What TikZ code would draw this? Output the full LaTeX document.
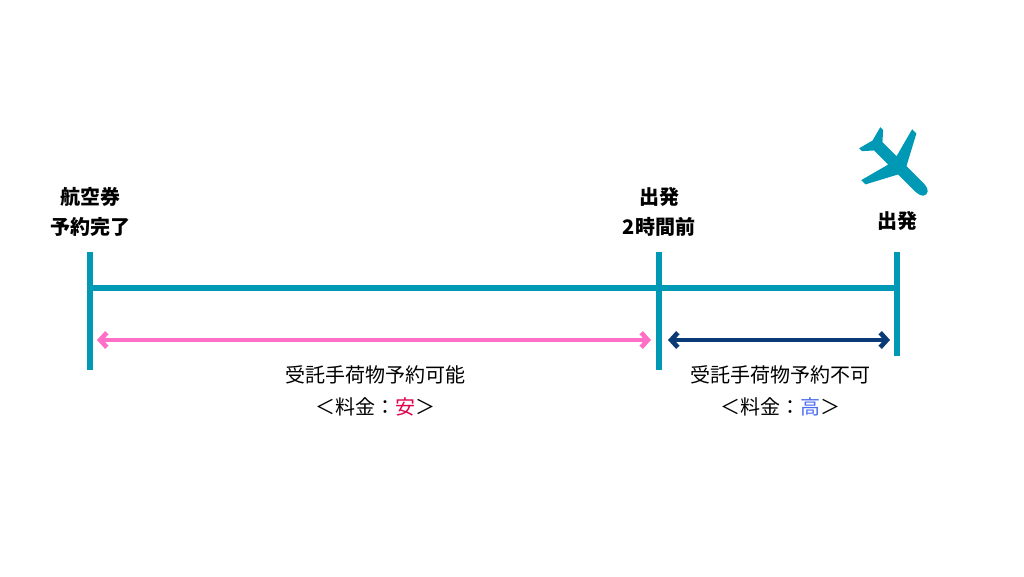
\documentclass[tikz,border=0pt]{standalone}
\usepackage{fontspec}
\newfontfamily\cjk{Noto Sans CJK JP}
\usetikzlibrary{arrows.meta}
\definecolor{lineteal}{HTML}{0099B5}
\definecolor{arrowpink}{HTML}{FF6EC7}
\definecolor{arrownavy}{HTML}{0B3A78}
\definecolor{cheapred}{HTML}{E0004D}
\definecolor{highblue}{HTML}{4A6CF0}
\tikzset{
  tick/.style={lineteal,line width=4.5pt},
  span/.style={line width=3.5pt,{Straight Barb[length=5pt,width=11pt]}-{Straight Barb[length=5pt,width=11pt]}},
  toplabel/.style={font=\cjk\bfseries\fontsize{15}{22}\selectfont,align=center},
  botlabel/.style={font=\cjk\fontsize{15}{24}\selectfont,align=center}
}
\begin{document}
\begin{tikzpicture}[x=0.75pt,y=-0.75pt]
    \useasboundingbox[fill=white] (0,0) rectangle (1024,576);
    % Points on the time line
    \coordinate (T0)  at (90,288);  % booking
    \coordinate (T1)  at (659,288); % two hours before
    \coordinate (T2)  at (897,288); % departure
    \draw[lineteal,line width=4.5pt] (T0) -- (T2);
    \draw[tick] (90,252) -- (90,370);
    \draw[tick] (659,252) -- (659,370);
    \draw[tick] (897,252) -- (897,356);
    % Spans
    \coordinate (PA) at (97,340);
    \coordinate (PB) at (651,340);
    \coordinate (NA) at (668,340);
    \coordinate (NB) at (890,340);
    \draw[span,arrowpink] (PA) -- (PB);
    \draw[span,arrownavy] (NA) -- (NB);
    % Labels
    \node[toplabel] (book) at (90,212) {航空券\\予約完了};
    \node[toplabel] (before) at (659,212) {出発\\2時間前};
    \node[toplabel] (dep) at (897,221) {出発};
    \node[botlabel] (cheap) at (375,391) {受託手荷物予約可能\\＜料金：\textcolor{cheapred}{安}＞};
    \node[botlabel] (high) at (780,391) {受託手荷物予約不可\\＜料金：\textcolor{highblue}{高}＞};
    % Plane
    \begin{scope}[shift={(898,166)},rotate=-45,y=0.75pt]
      \fill[lineteal] (40,0) .. controls (40,5) and (34,6) .. (28,6)
        -- (6,6) -- (-10,36) -- (-16,36) -- (-8,6) -- (-28,6) -- (-36,15) -- (-40,15)
        -- (-36,0) -- (-40,-15) -- (-36,-15) -- (-28,-6) -- (-8,-6) -- (-16,-36)
        -- (-10,-36) -- (6,-6) -- (28,-6) .. controls (34,-6) and (40,-5) .. (40,0) -- cycle;
    \end{scope}
\end{tikzpicture}
\end{document}
